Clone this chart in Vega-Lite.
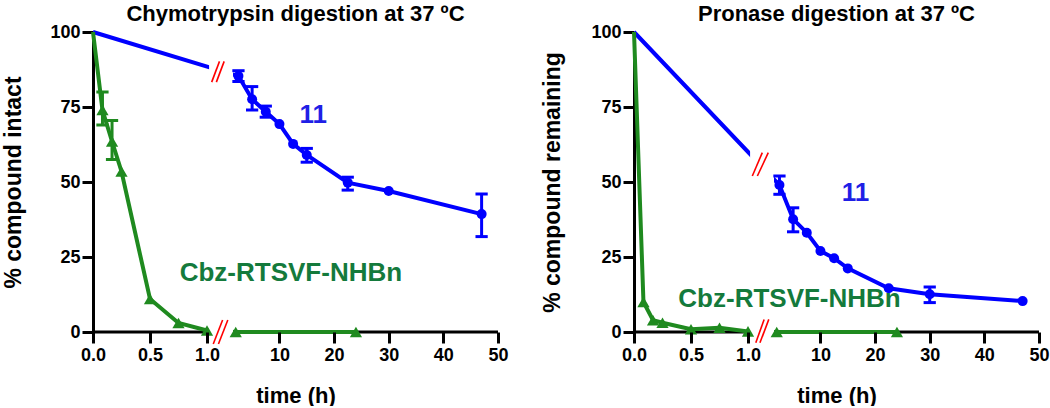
{
  "$schema": "https://vega.github.io/schema/vega-lite/v6.json",
  "background": "white",
  "padding": {"left": 2, "top": 3, "right": 0, "bottom": 0},
  "spacing": 32,
  "datasets": {
    "points": [
      {"panel": "chymo", "series": "11", "t": 0, "pct": 100},
      {"panel": "chymo", "series": "11", "t": 2.5, "pct": 85.3, "lo": 83.5, "hi": 87.1},
      {"panel": "chymo", "series": "11", "t": 5, "pct": 77.6, "lo": 74, "hi": 81.8},
      {"panel": "chymo", "series": "11", "t": 7.5, "pct": 73.4, "lo": 71.6, "hi": 75.3},
      {"panel": "chymo", "series": "11", "t": 10, "pct": 69.3},
      {"panel": "chymo", "series": "11", "t": 12.5, "pct": 62.7},
      {"panel": "chymo", "series": "11", "t": 15, "pct": 59, "lo": 56.6, "hi": 61.2},
      {"panel": "chymo", "series": "11", "t": 22.5, "pct": 49.8, "lo": 47.3, "hi": 51.6},
      {"panel": "chymo", "series": "11", "t": 30, "pct": 47},
      {"panel": "chymo", "series": "11", "t": 47, "pct": 39.3, "lo": 31.8, "hi": 46},
      {"panel": "chymo", "series": "Cbz", "t": 0, "pct": 100},
      {"panel": "chymo", "series": "Cbz", "t": 0.083, "pct": 74, "lo": 69, "hi": 80},
      {"panel": "chymo", "series": "Cbz", "t": 0.167, "pct": 63.5, "lo": 57.5, "hi": 70.5},
      {"panel": "chymo", "series": "Cbz", "t": 0.25, "pct": 53.5},
      {"panel": "chymo", "series": "Cbz", "t": 0.5, "pct": 11},
      {"panel": "chymo", "series": "Cbz", "t": 0.75, "pct": 3},
      {"panel": "chymo", "series": "Cbz", "t": 1, "pct": 0.5},
      {"panel": "chymo", "series": "Cbz", "t": 2, "pct": 0},
      {"panel": "chymo", "series": "Cbz", "t": 24, "pct": 0},
      {"panel": "pronase", "series": "11", "t": 0, "pct": 100},
      {"panel": "pronase", "series": "11", "t": 2.5, "pct": 49, "lo": 45.9, "hi": 52},
      {"panel": "pronase", "series": "11", "t": 5, "pct": 37.6, "lo": 33.4, "hi": 41.4},
      {"panel": "pronase", "series": "11", "t": 7.5, "pct": 33.1},
      {"panel": "pronase", "series": "11", "t": 10, "pct": 27},
      {"panel": "pronase", "series": "11", "t": 12.5, "pct": 24.6},
      {"panel": "pronase", "series": "11", "t": 15, "pct": 21.2},
      {"panel": "pronase", "series": "11", "t": 22.5, "pct": 14.6},
      {"panel": "pronase", "series": "11", "t": 30, "pct": 12.6, "lo": 9.8, "hi": 15},
      {"panel": "pronase", "series": "11", "t": 47, "pct": 10.3},
      {"panel": "pronase", "series": "Cbz", "t": 0, "pct": 100},
      {"panel": "pronase", "series": "Cbz", "t": 0.083, "pct": 10},
      {"panel": "pronase", "series": "Cbz", "t": 0.167, "pct": 3.9},
      {"panel": "pronase", "series": "Cbz", "t": 0.25, "pct": 3.1},
      {"panel": "pronase", "series": "Cbz", "t": 0.5, "pct": 0.9},
      {"panel": "pronase", "series": "Cbz", "t": 0.75, "pct": 1.4},
      {"panel": "pronase", "series": "Cbz", "t": 1, "pct": 0.2},
      {"panel": "pronase", "series": "Cbz", "t": 2, "pct": 0},
      {"panel": "pronase", "series": "Cbz", "t": 24, "pct": 0}
    ],
    "axisSegments": [
      {"t0": 0, "t1": 1},
      {"t0": 1.5, "t1": 50}
    ],
    "gap": [
      {"x0": 1.04, "x1": 1.5, "y0": -1.5, "y1": 101}
    ],
    "slashes": [
      {"panel": "chymo", "xa": 1.12, "ya": -4, "xb": 1.3, "yb": 4},
      {"panel": "chymo", "xa": 1.22, "ya": -4, "xb": 1.4, "yb": 4},
      {"panel": "chymo", "xa": 1.09, "ya": 83.3, "xb": 1.24, "yb": 90.2},
      {"panel": "chymo", "xa": 1.18, "ya": 83.3, "xb": 1.33, "yb": 90.2},
      {"panel": "pronase", "xa": 1.15, "ya": -3.6, "xb": 1.31, "yb": 4.2},
      {"panel": "pronase", "xa": 1.23, "ya": -3.6, "xb": 1.4, "yb": 4.2},
      {"panel": "pronase", "xa": 1.083, "ya": 52, "xb": 1.275, "yb": 59.8},
      {"panel": "pronase", "xa": 1.18, "ya": 52, "xb": 1.39, "yb": 59.8}
    ],
    "labels": [
      {"panel": "chymo", "series": "11", "label": "11", "t": 16.2, "pct": 72.3},
      {"panel": "chymo", "series": "Cbz", "label": "Cbz-RTSVF-NHBn", "t": 12.1, "pct": 19.7},
      {"panel": "pronase", "series": "11", "label": "11", "t": 16.4, "pct": 46.4},
      {"panel": "pronase", "series": "Cbz", "label": "Cbz-RTSVF-NHBn", "t": 4.34, "pct": 10.9}
    ]
  },
  "hconcat": [
    {
      "width": 405,
      "height": 300,
      "title": {"text": "Chymotrypsin digestion at 37 ºC"},
      "resolve": {"scale": {"color": "independent"}},
      "layer": [
        {
          "data": {"name": "axisSegments"},
          "mark": {"type": "rule", "color": "black", "strokeWidth": 3},
          "encoding": {
            "x": {"field": "t0", "type": "quantitative", "scale": {"domain": [0, 1, 1.5, 50], "range": [0, 114, 140, 405], "nice": false, "zero": false},
              "axis": {"domain": false, "zindex": 1, "values": [0, 0.5, 1, 10, 20, 30, 40, 50], "labelExpr": "datum.value <= 1 ? format(datum.value, '.1f') : format(datum.value, 'd')", "labelFlush": false, "labelOverlap": false, "title": "time (h)", "titleFontSize": 22, "tickSize": 11, "labelPadding": 3, "titlePadding": 21}},
            "x2": {"field": "t1"},
            "y": {"datum": 0, "type": "quantitative", "scale": {"domain": [0, 100], "nice": false, "zero": false},
              "axis": {"values": [0, 25, 50, 75, 100], "title": "% compound intact", "titleFontSize": 23, "tickSize": 11, "labelPadding": 2, "titlePadding": 24}}
          }
        },
        {
          "data": {"name": "points"},
          "transform": [{"filter": "datum.panel === 'chymo'"}],
          "mark": {"type": "line", "strokeWidth": 4},
          "encoding": {
            "x": {"field": "t", "type": "quantitative"},
            "y": {"field": "pct", "type": "quantitative"},
            "color": {"field": "series", "type": "nominal", "scale": {"domain": ["11", "Cbz"], "range": ["#0000ff", "#1f8a1f"]}, "legend": null}
          }
        },
        {
          "data": {"name": "gap"},
          "mark": {"type": "rect", "color": "white"},
          "encoding": {
            "x": {"field": "x0", "type": "quantitative"},
            "x2": {"field": "x1"},
            "y": {"field": "y0", "type": "quantitative"},
            "y2": {"field": "y1"}
          }
        },
        {
          "data": {"name": "points"},
          "transform": [{"filter": "datum.panel === 'chymo' && isValid(datum.lo)"}],
          "mark": {"type": "rule", "strokeWidth": 3},
          "encoding": {
            "x": {"field": "t", "type": "quantitative"},
            "y": {"field": "lo", "type": "quantitative"},
            "y2": {"field": "hi"},
            "color": {"field": "series", "type": "nominal", "scale": {"domain": ["11", "Cbz"], "range": ["#0000ff", "#1f8a1f"]}, "legend": null}
          }
        },
        {
          "data": {"name": "points"},
          "transform": [{"filter": "datum.panel === 'chymo' && isValid(datum.lo)"}, {"fold": ["lo", "hi"], "as": ["end", "val"]}],
          "mark": {"type": "point", "shape": "M-1,0L1,0", "filled": false, "strokeWidth": 3, "size": 150, "opacity": 1},
          "encoding": {
            "x": {"field": "t", "type": "quantitative"},
            "y": {"field": "val", "type": "quantitative"},
            "color": {"field": "series", "type": "nominal", "scale": {"domain": ["11", "Cbz"], "range": ["#0000ff", "#1f8a1f"]}, "legend": null}
          }
        },
        {
          "data": {"name": "points"},
          "transform": [{"filter": "datum.panel === 'chymo' && datum.t > 0"}],
          "mark": {"type": "point", "filled": true, "opacity": 1},
          "encoding": {
            "x": {"field": "t", "type": "quantitative"},
            "y": {"field": "pct", "type": "quantitative"},
            "shape": {"field": "series", "type": "nominal", "scale": {"domain": ["11", "Cbz"], "range": ["circle", "triangle-up"]}, "legend": null},
            "size": {"field": "series", "type": "nominal", "scale": {"domain": ["11", "Cbz"], "range": [100, 150]}, "legend": null},
            "color": {"field": "series", "type": "nominal", "scale": {"domain": ["11", "Cbz"], "range": ["#0000ff", "#1f8a1f"]}, "legend": null}
          }
        },
        {
          "data": {"name": "slashes"},
          "transform": [{"filter": "datum.panel === 'chymo'"}],
          "mark": {"type": "rule", "color": "#ff0000", "strokeWidth": 1.6},
          "encoding": {
            "x": {"field": "xa", "type": "quantitative"},
            "x2": {"field": "xb"},
            "y": {"field": "ya", "type": "quantitative"},
            "y2": {"field": "yb"}
          }
        },
        {
          "data": {"name": "labels"},
          "transform": [{"filter": "datum.panel === 'chymo'"}],
          "mark": {"type": "text", "font": "Liberation Sans", "fontWeight": "bold", "fontSize": 26, "align": "center", "baseline": "middle"},
          "encoding": {
            "x": {"field": "t", "type": "quantitative"},
            "y": {"field": "pct", "type": "quantitative"},
            "text": {"field": "label"},
            "color": {"field": "series", "type": "nominal", "scale": {"domain": ["11", "Cbz"], "range": ["#1f1fe6", "#147a3c"]}, "legend": null}
          }
        }
      ]
    },
    {
      "width": 405,
      "height": 300,
      "title": {"text": "Pronase digestion at 37 ºC"},
      "resolve": {"scale": {"color": "independent"}},
      "layer": [
        {
          "data": {"name": "axisSegments"},
          "mark": {"type": "rule", "color": "black", "strokeWidth": 3},
          "encoding": {
            "x": {"field": "t0", "type": "quantitative", "scale": {"domain": [0, 1, 1.5, 50], "range": [0, 114, 140, 405], "nice": false, "zero": false},
              "axis": {"domain": false, "zindex": 1, "values": [0, 0.5, 1, 10, 20, 30, 40, 50], "labelExpr": "datum.value <= 1 ? format(datum.value, '.1f') : format(datum.value, 'd')", "labelFlush": false, "labelOverlap": false, "title": "time (h)", "titleFontSize": 22, "tickSize": 11, "labelPadding": 3, "titlePadding": 21}},
            "x2": {"field": "t1"},
            "y": {"datum": 0, "type": "quantitative", "scale": {"domain": [0, 100], "nice": false, "zero": false},
              "axis": {"values": [0, 25, 50, 75, 100], "title": "% compound remaining", "titleFontSize": 23, "tickSize": 11, "labelPadding": 2, "titlePadding": 26}}
          }
        },
        {
          "data": {"name": "points"},
          "transform": [{"filter": "datum.panel === 'pronase'"}],
          "mark": {"type": "line", "strokeWidth": 4},
          "encoding": {
            "x": {"field": "t", "type": "quantitative"},
            "y": {"field": "pct", "type": "quantitative"},
            "color": {"field": "series", "type": "nominal", "scale": {"domain": ["11", "Cbz"], "range": ["#0000ff", "#1f8a1f"]}, "legend": null}
          }
        },
        {
          "data": {"name": "gap"},
          "mark": {"type": "rect", "color": "white"},
          "encoding": {
            "x": {"field": "x0", "type": "quantitative"},
            "x2": {"field": "x1"},
            "y": {"field": "y0", "type": "quantitative"},
            "y2": {"field": "y1"}
          }
        },
        {
          "data": {"name": "points"},
          "transform": [{"filter": "datum.panel === 'pronase' && isValid(datum.lo)"}],
          "mark": {"type": "rule", "strokeWidth": 3},
          "encoding": {
            "x": {"field": "t", "type": "quantitative"},
            "y": {"field": "lo", "type": "quantitative"},
            "y2": {"field": "hi"},
            "color": {"field": "series", "type": "nominal", "scale": {"domain": ["11", "Cbz"], "range": ["#0000ff", "#1f8a1f"]}, "legend": null}
          }
        },
        {
          "data": {"name": "points"},
          "transform": [{"filter": "datum.panel === 'pronase' && isValid(datum.lo)"}, {"fold": ["lo", "hi"], "as": ["end", "val"]}],
          "mark": {"type": "point", "shape": "M-1,0L1,0", "filled": false, "strokeWidth": 3, "size": 150, "opacity": 1},
          "encoding": {
            "x": {"field": "t", "type": "quantitative"},
            "y": {"field": "val", "type": "quantitative"},
            "color": {"field": "series", "type": "nominal", "scale": {"domain": ["11", "Cbz"], "range": ["#0000ff", "#1f8a1f"]}, "legend": null}
          }
        },
        {
          "data": {"name": "points"},
          "transform": [{"filter": "datum.panel === 'pronase' && datum.t > 0"}],
          "mark": {"type": "point", "filled": true, "opacity": 1},
          "encoding": {
            "x": {"field": "t", "type": "quantitative"},
            "y": {"field": "pct", "type": "quantitative"},
            "shape": {"field": "series", "type": "nominal", "scale": {"domain": ["11", "Cbz"], "range": ["circle", "triangle-up"]}, "legend": null},
            "size": {"field": "series", "type": "nominal", "scale": {"domain": ["11", "Cbz"], "range": [100, 150]}, "legend": null},
            "color": {"field": "series", "type": "nominal", "scale": {"domain": ["11", "Cbz"], "range": ["#0000ff", "#1f8a1f"]}, "legend": null}
          }
        },
        {
          "data": {"name": "slashes"},
          "transform": [{"filter": "datum.panel === 'pronase'"}],
          "mark": {"type": "rule", "color": "#ff0000", "strokeWidth": 1.6},
          "encoding": {
            "x": {"field": "xa", "type": "quantitative"},
            "x2": {"field": "xb"},
            "y": {"field": "ya", "type": "quantitative"},
            "y2": {"field": "yb"}
          }
        },
        {
          "data": {"name": "labels"},
          "transform": [{"filter": "datum.panel === 'pronase'"}],
          "mark": {"type": "text", "font": "Liberation Sans", "fontWeight": "bold", "fontSize": 26, "align": "center", "baseline": "middle"},
          "encoding": {
            "x": {"field": "t", "type": "quantitative"},
            "y": {"field": "pct", "type": "quantitative"},
            "text": {"field": "label"},
            "color": {"field": "series", "type": "nominal", "scale": {"domain": ["11", "Cbz"], "range": ["#1f1fe6", "#147a3c"]}, "legend": null}
          }
        }
      ]
    }
  ],
  "config": {
    "font": "Liberation Sans",
    "view": {"stroke": null},
    "axis": {"grid": false, "domainColor": "black", "domainWidth": 3, "tickColor": "black", "tickWidth": 3, "labelFont": "Liberation Sans", "labelFontWeight": "bold", "labelFontSize": 18, "labelColor": "black", "titleFont": "Liberation Sans", "titleFontWeight": "bold", "titleColor": "black"},
    "title": {"font": "Liberation Sans", "fontWeight": "bold", "fontSize": 22, "color": "black", "frame": "group", "offset": -3}
  }
}
